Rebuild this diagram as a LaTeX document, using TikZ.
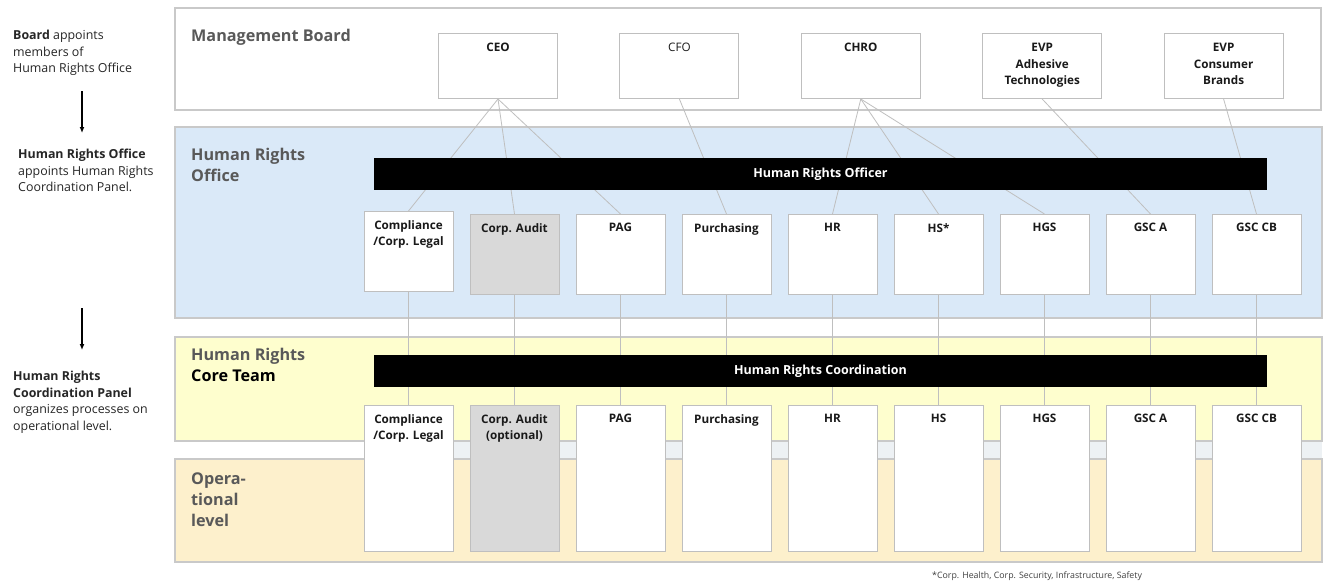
\documentclass[tikz,border=0pt]{standalone}
\usepackage{fontspec}
\setmainfont{Open Sans}
\usetikzlibrary{arrows.meta}

\definecolor{hroblue}{HTML}{DAE9F8}
\definecolor{coreyellow}{HTML}{FEFECE}
\definecolor{opsbeige}{HTML}{FDF0CC}
\definecolor{auditgrey}{HTML}{D9D9D9}
\definecolor{rulegrey}{HTML}{BFBFBF}
\definecolor{titlegrey}{HTML}{595959}
\definecolor{stripgrey}{HTML}{EDF1F4}

\pgfdeclarelayer{bands}
\pgfdeclarelayer{links}
\pgfsetlayers{bands,links,main}

\tikzset{
    band/.style={draw=rulegrey!85, line width=1.2pt},
    exec/.style={draw=rulegrey, line width=1pt, fill=white, minimum width=119pt,
        minimum height=65pt, anchor=north, inner sep=0pt},
    dept/.style={draw=rulegrey, line width=1pt, minimum width=89pt, anchor=north, inner sep=0pt},
    boxtext/.style={anchor=north, inner sep=0pt, align=center, text=black!90,
        font=\fontsize{11.7}{16.5}\selectfont\bfseries},
    bar/.style={fill=black, minimum width=893pt, minimum height=32pt, inner sep=0pt,
        text=white, font=\fontsize{12.5}{14}\selectfont\bfseries},
    bandtitle/.style={anchor=north west, inner sep=0pt, align=left, text=titlegrey,
        font=\fontsize{16.2}{21}\selectfont\bfseries},
    sidetext/.style={anchor=north west, inner sep=0pt, align=left, text=black!85,
        font=\fontsize{12.4}{16.5}\selectfont},
    link/.style={draw=rulegrey, line width=0.8pt},
    flow/.style={-{Latex[length=6pt,width=5pt]}, line width=1.4pt},
}

\begin{document}
\begin{tikzpicture}[x=1pt,y=-1pt]
    \useasboundingbox (0,0) rectangle (1323,582);

    % the four levels
    \begin{pgfonlayer}{bands}
        \fill[white] (0,0) rectangle (1323,582);
        \draw[band, fill=white] (175,8) rectangle (1321,110);
        \draw[band, fill=hroblue] (175,127) rectangle (1322,318);
        \draw[band, fill=coreyellow] (175,337) rectangle (1322,441);
        \draw[band, fill=opsbeige] (175,459) rectangle (1322,562);
        \fill[stripgrey] (364,442) rectangle (1322,458);
    \end{pgfonlayer}

    \node[bandtitle] (mbtitle) at (191,29) {Management Board};
    \node[bandtitle] (hrotitle) at (191,148) {Human Rights\\Office};
    \node[bandtitle] (coretitle) at (191,348) {Human Rights\\\textcolor{black}{Core Team}};
    \node[bandtitle] (opstitle) at (191,473) {Opera-\\tional\\level};

    % board members
    \foreach \name/\lbl [count=\i] in {ceo/CEO, cfo/{\mdseries CFO}, chro/CHRO,
        evpa/{EVP\\Adhesive\\Technologies}, evpc/{EVP\\Consumer\\Brands}}
    {
        \pgfmathsetmacro\xc{498+(\i-1)*181.4}
        \node[exec] (\name) at (\xc,33) {};
        \node[boxtext] (\name-t) at ([yshift=-10pt]\name.north) {\lbl};
    }

    \node[bar] (officer) at (820.5,174) {Human Rights Officer};
    \node[bar] (coord) at (820.5,371) {Human Rights Coordination};

    % functions, office row (1) and core team row (2)
    \foreach \name/\lbl/\lblb [count=\i] in {comp/{Compliance\\/Corp. Legal}/{Compliance\\/Corp. Legal},
        audit/Corp. Audit/{Corp. Audit\\(optional)}, pag/PAG/PAG, purch/Purchasing/Purchasing,
        hr/HR/HR, hs/HS*/HS, hgs/HGS/HGS, gsca/GSC A/GSC A, gsccb/GSC CB/GSC CB}
    {
        \pgfmathsetmacro\xc{408.5+(\i-1)*106}
        \pgfmathsetmacro\lift{\i==1 ? 3 : 0}
        \pgfmathparse{\i==2 ? "auditgrey" : "white"}
        \edef\shade{\pgfmathresult}
        \node[dept, fill=\shade, minimum height=80pt] (\name1) at (\xc,{214-\lift}) {};
        \node[boxtext] (\name1-t) at ([yshift=-9pt]\name1.north) {\lbl};
        \node[dept, fill=\shade, minimum height=146pt] (\name2) at (\xc,405) {};
        \node[boxtext] (\name2-t) at ([yshift=-9pt]\name2.north) {\lblb};
        \begin{pgfonlayer}{links}
            \draw[link] (\name1.south) -- (\name2.north);
        \end{pgfonlayer}
    }

    \begin{pgfonlayer}{links}
        \foreach \a/\b in {ceo/comp, ceo/audit, ceo/pag, cfo/purch, chro/hr,
            chro/hs, chro/hgs, evpa/gsca, evpc/gsccb}
            \draw[link] (\a.south) -- (\b1.north);
    \end{pgfonlayer}

    % left column
    \node[sidetext] (board) at (13,30) {\textbf{Board} appoints\\members of\\Human Rights Office};
    \node[sidetext] (office) at (18,149) {\textbf{Human Rights Office}\\appoints Human Rights\\Coordination Panel.};
    \node[sidetext] (panel) at (13,371) {\textbf{Human Rights}\\\textbf{Coordination Panel}\\organizes processes on\\operational level.};

    \coordinate (arrA) at (82,91);
    \coordinate (arrB) at (82,133);
    \coordinate (arrC) at (82,308);
    \coordinate (arrD) at (82,350);
    \draw[flow] (arrA) -- (arrB);
    \draw[flow] (arrC) -- (arrD);

    \node[anchor=west, inner sep=0pt, text=black!75, font=\fontsize{8.8}{10}\selectfont]
        (footnote) at (932,576) {*Corp. Health, Corp. Security, Infrastructure, Safety};
\end{tikzpicture}
\end{document}
